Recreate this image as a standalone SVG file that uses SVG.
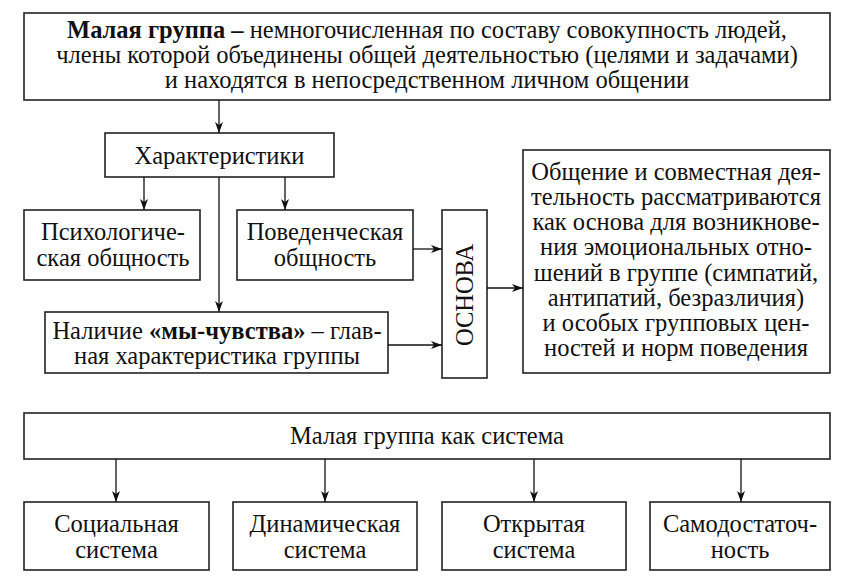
<svg xmlns="http://www.w3.org/2000/svg" width="851" height="587" viewBox="0 0 851 587">
<defs>
<marker id="ah" markerWidth="12" markerHeight="8" refX="11" refY="4" orient="auto" markerUnits="userSpaceOnUse">
<path d="M0,0 L11,4 L0,8 L3,4 Z" fill="#111"/>
</marker>
<style>
.box{fill:#fff;stroke:#222;stroke-width:1.6}
.t{font-family:"Liberation Serif","Times New Roman",serif;font-size:24.5px;fill:#111;text-anchor:middle}
.b{font-weight:bold}
.c{stroke:#111;stroke-width:1.3;fill:none}
</style>
</defs>
<rect width="851" height="587" fill="#fff"/>
<g id="def">
<rect class="box" x="24" y="13" width="806" height="87"/>
<text class="t" x="427" y="38"><tspan class="b">Малая группа –</tspan> немногочисленная по составу совокупность людей,</text>
<text class="t" x="427" y="63">члены которой объединены общей деятельностью (целями и задачами)</text>
<text class="t" x="427" y="88">и находятся в непосредственном личном общении</text>
</g>
<g id="char">
<rect class="box" x="105" y="133" width="229" height="44"/>
<text class="t" x="219.5" y="164">Характеристики</text>
</g>
<g id="psych">
<rect class="box" x="24" y="210" width="176" height="70"/>
<text class="t" x="113" y="240">Психологиче-</text>
<text class="t" x="113" y="266">ская общность</text>
</g>
<g id="behav">
<rect class="box" x="237" y="210" width="176" height="70"/>
<text class="t" x="325" y="240">Поведенческая</text>
<text class="t" x="325" y="266">общность</text>
</g>
<g id="we">
<rect class="box" x="45" y="312" width="343" height="61"/>
<text class="t" x="217" y="339">Наличие <tspan class="b">«мы-чувства»</tspan> – глав-</text>
<text class="t" x="217" y="364">ная характеристика группы</text>
</g>
<g id="osnova">
<rect class="box" x="442" y="210" width="45" height="168"/>
<text class="t" transform="translate(473,295) rotate(-90)" x="0" y="0">ОСНОВА</text>
</g>
<g id="right">
<rect class="box" x="523" y="150" width="307" height="223"/>
<text class="t" x="676" y="180">Общение и совместная дея-</text>
<text class="t" x="676" y="205">тельность рассматриваются</text>
<text class="t" x="676" y="230">как основа для возникнове-</text>
<text class="t" x="676" y="255">ния эмоциональных отно-</text>
<text class="t" x="676" y="281">шений в группе (симпатий,</text>
<text class="t" x="676" y="306">антипатий, безразличия)</text>
<text class="t" x="676" y="331">и особых групповых цен-</text>
<text class="t" x="676" y="356">ностей и норм поведения</text>
</g>
<g id="system">
<rect class="box" x="24" y="413" width="806" height="46"/>
<text class="t" x="427" y="444">Малая группа как система</text>
</g>
<g id="social">
<rect class="box" x="24" y="502" width="185" height="68"/>
<text class="t" x="116.5" y="532">Социальная</text>
<text class="t" x="116.5" y="558">система</text>
</g>
<g id="dynamic">
<rect class="box" x="233" y="502" width="184" height="68"/>
<text class="t" x="325" y="532">Динамическая</text>
<text class="t" x="325" y="558">система</text>
</g>
<g id="open">
<rect class="box" x="442" y="502" width="184" height="68"/>
<text class="t" x="534" y="532">Открытая</text>
<text class="t" x="534" y="558">система</text>
</g>
<g id="self">
<rect class="box" x="650" y="502" width="180" height="68"/>
<text class="t" x="740" y="532">Самодостаточ-</text>
<text class="t" x="740" y="558">ность</text>
</g>
<g id="connectors">
<line class="c" x1="219" y1="100" x2="219" y2="133" marker-end="url(#ah)"/>
<line class="c" x1="144" y1="177" x2="144" y2="210" marker-end="url(#ah)"/>
<line class="c" x1="285" y1="177" x2="285" y2="210" marker-end="url(#ah)"/>
<line class="c" x1="219" y1="177" x2="219" y2="312" marker-end="url(#ah)"/>
<line class="c" x1="413" y1="249" x2="442" y2="249" marker-end="url(#ah)"/>
<line class="c" x1="388" y1="345" x2="442" y2="345" marker-end="url(#ah)"/>
<line class="c" x1="487" y1="288" x2="523" y2="288" marker-end="url(#ah)"/>
<line class="c" x1="116" y1="459" x2="116" y2="502" marker-end="url(#ah)"/>
<line class="c" x1="325" y1="459" x2="325" y2="502" marker-end="url(#ah)"/>
<line class="c" x1="534" y1="459" x2="534" y2="502" marker-end="url(#ah)"/>
<line class="c" x1="741" y1="459" x2="741" y2="502" marker-end="url(#ah)"/>
</g>
</svg>
